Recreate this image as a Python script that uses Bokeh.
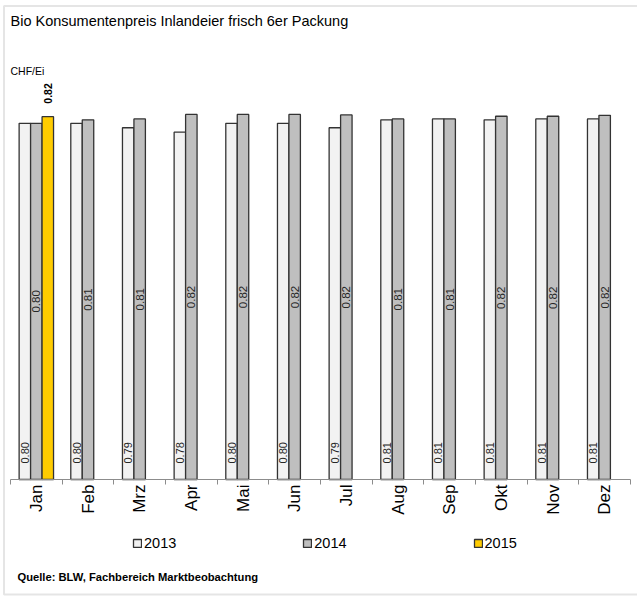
from math import pi
from bokeh.plotting import figure
from bokeh.models import (ColumnDataSource, Range1d, LinearAxis, FixedTicker, Legend,
                          LegendItem, Label, BoxAnnotation)
from bokeh.core.properties import value
from bokeh.embed import file_html
from bokeh.resources import INLINE

# ---- data ----
months = ["Jan", "Feb", "Mrz", "Apr", "Mai", "Jun", "Jul", "Aug", "Sep", "Okt", "Nov", "Dez"]
p2013 = [0.804, 0.804, 0.794, 0.784, 0.804, 0.804, 0.794, 0.812, 0.814, 0.812, 0.814, 0.814]
p2014 = [0.804, 0.812, 0.814, 0.824, 0.824, 0.824, 0.823, 0.814, 0.814, 0.820, 0.820, 0.822]
p2015 = [0.819]          # only January available
years = ["2013", "2014", "2015"]
title_text = "Bio Konsumentenpreis Inlandeier frisch 6er Packung"
unit_text = "CHF/Ei"
source_text = "Quelle: BLW, Fachbereich Marktbeobachtung"

FONT = "Liberation Sans"
colors = ["#f2f2f2", "#bfbfbf", "#ffcc00"]
offsets = [-0.222, 0.0, 0.222]
bw = 0.222

# page geometry: canvas at page (0,0); categories span x 10..630, baseline y 479
W, H = 637, 597
CX, CY = 0, 0
PXX = 620 / 12.0      # px per category
PXU = 443.0           # px per CHF
def X(px):
    return (px - 10) / PXX - 0.5
def Y(py):
    return (479 - py) / PXU

p = figure(width=W, height=H,
           x_range=Range1d(X(CX), X(CX + W)), y_range=Range1d(Y(CY + H), Y(CY)),
           output_backend="svg", toolbar_location=None, x_axis_location=None, y_axis_location=None,
           min_border_left=0, min_border_right=0, min_border_top=0, min_border_bottom=0)
p.grid.visible = False
p.outline_line_color = None
p.background_fill_color = "white"
p.border_fill_color = "white"

ax = LinearAxis(ticker=FixedTicker(ticks=list(range(12)), minor_ticks=[i - 0.5 for i in range(13)]),
                major_label_overrides={i: m for i, m in enumerate(months)},
                fixed_location=0, bounds=(-0.5, 11.5))
ax.axis_line_color = "#8c8c8c"
ax.axis_line_width = 1.2
ax.major_tick_out = 0
ax.major_tick_in = 0
ax.minor_tick_out = 5
ax.minor_tick_in = 0
ax.minor_tick_line_color = "#8c8c8c"
ax.major_label_orientation = pi / 2
ax.major_label_standoff = 0
ax.major_label_text_font = FONT
ax.major_label_text_font_size = "17px"
ax.major_label_text_color = "#000000"
p.add_layout(ax, "below")

series = [p2013, p2014, p2015]
renderers = []
for k, vals in enumerate(series):
    xs = [i + offsets[k] for i in range(len(vals))]
    src = ColumnDataSource(dict(x=xs, top=vals, lab=[f"{v:.2f}" for v in vals], half=[v / 2 for v in vals]))
    r = p.vbar(x="x", top="top", bottom=0, width=bw, source=src, fill_color=colors[k],
               line_color="#333333", line_width=1.3)
    renderers.append(r)
    if k == 0:
        p.text(x="x", y=0, text="lab", source=src, angle=pi / 2, text_align="left",
               text_baseline="middle", y_offset=-16, text_font=value(FONT),
               text_font_size="11px", text_color="#262626")
    elif k == 1:
        p.text(x="x", y="half", text="lab", source=src, angle=pi / 2, text_align="center",
               text_baseline="middle", text_font=value(FONT),
               text_font_size="11.5px", text_color="#262626")
    else:
        p.text(x="x", y="top", text="lab", source=src, angle=pi / 2, text_align="left",
               text_baseline="middle", y_offset=-13, text_font=value(FONT),
               text_font_size="10.5px", text_font_style="bold", text_color="#000000")

legend = Legend(items=[LegendItem(label=years[k], renderers=[renderers[k]]) for k in range(3)],
                orientation="horizontal", location=(132, H - 551), spacing=126,
                glyph_width=10, glyph_height=10, label_standoff=2, label_height=10,
                padding=0, margin=0, border_line_color=None, background_fill_alpha=0,
                label_text_font=FONT, label_text_font_size="14.5px", label_text_color="#000000")
p.add_layout(legend, "center")

p.add_layout(Label(x=X(10), y=Y(20), text=title_text, text_baseline="middle",
                   text_font=FONT, text_font_size="14.5px", text_color="#000000"))
p.add_layout(Label(x=X(10), y=Y(70), text=unit_text, text_baseline="middle",
                   text_font=FONT, text_font_size="10.5px", text_color="#000000"))
p.add_layout(Label(x=X(17), y=Y(576), text=source_text, text_baseline="middle",
                   text_font=FONT, text_font_size="11.2px", text_font_style="bold",
                   text_color="#000000"))
p.add_layout(BoxAnnotation(left=X(3.5), right=X(700), top=Y(5.5), bottom=Y(594),
                           fill_alpha=0, line_color="#a8a8a8", line_width=2))

open("out.html", "w").write(file_html(p, INLINE))
